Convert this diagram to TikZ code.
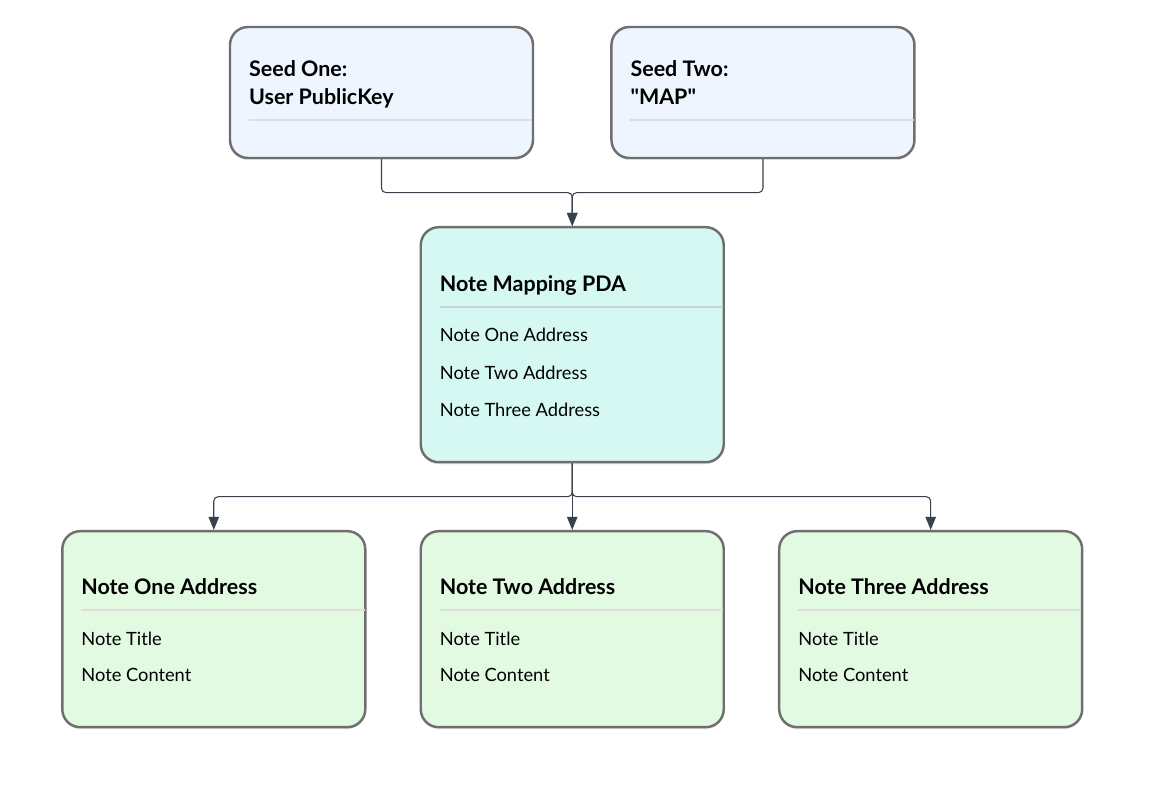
\documentclass[tikz,border=0pt]{standalone}
\usepackage{fontspec}
\setmainfont{Lato}[Ligatures=TeXOff]
\usetikzlibrary{arrows.meta,positioning,calc,shadows}
\definecolor{seedfill}{HTML}{EEF5FF}
\definecolor{pdafill}{HTML}{D5F8F2}
\definecolor{notefill}{HTML}{E2F9E2}
\definecolor{boxline}{HTML}{6F6F6F}
\definecolor{sepline}{HTML}{DEDEDE}
\definecolor{pdasep}{HTML}{C8D3DA}
\definecolor{linkcol}{HTML}{3A414C}

\begin{document}
\begin{tikzpicture}[
    box/.style={draw=boxline, line width=1.4pt, rounded corners=0.36cm, minimum width=6.06cm,
      drop shadow={shadow xshift=0pt, shadow yshift=-1.2pt, opacity=0.18}},
    seedbox/.style={box, fill=seedfill, minimum height=2.62cm},
    pdabox/.style={box, fill=pdafill, minimum height=4.7cm},
    notebox/.style={box, fill=notefill, minimum height=3.92cm},
    head/.style={anchor=base west, inner sep=0pt, font=\bfseries\fontsize{12.2}{14}\selectfont},
    item/.style={anchor=base west, inner sep=0pt, font=\fontsize{10.4}{13}\selectfont},
    sep/.style={draw=sepline, line width=1.2pt},
    link/.style={draw=linkcol, line width=0.6pt, rounded corners=2.5pt, -{Triangle[length=7.5pt,width=6pt]}}
  ]
    \useasboundingbox (0,0) rectangle (23.16,-16.2);

    % seeds
    \node [seedbox] (seedone) at (7.63,-1.85) {};
    \node [seedbox, right=1.52cm of seedone] (seedtwo) {};
    \node [head] (seedonea) at ($(seedone.north west)+(0.4,-1.02)$) {Seed One:};
    \node [head] (seedoneb) at ($(seedone.north west)+(0.4,-1.58)$) {User PublicKey};
    \node [head] (seedtwoa) at ($(seedtwo.north west)+(0.4,-1.02)$) {Seed Two:};
    \node [head] (seedtwob) at ($(seedtwo.north west)+(0.4,-1.58)$) {"MAP"};
    \draw [sep] ($(seedone.north west)+(0.4,-1.88)$) -- ($(seedone.north east)+(-0.04,-1.88)$);
    \draw [sep] ($(seedtwo.north west)+(0.4,-1.88)$) -- ($(seedtwo.north east)+(-0.04,-1.88)$);

    % mapping pda
    \coordinate (seedmid) at ($(seedone.south)!0.5!(seedtwo.south)$);
    \node [pdabox, below=1.335cm of seedmid] (pda) {};
    \node [head] (pdahead) at ($(pda.north west)+(0.4,-1.32)$) {Note Mapping PDA};
    \draw [sep, draw=pdasep] ($(pda.north west)+(0.4,-1.62)$) -- ($(pda.north east)+(-0.04,-1.62)$);
    \node [item] (pdaone) at ($(pda.north west)+(0.4,-2.32)$) {Note One Address};
    \node [item] (pdatwo) at ($(pda.north west)+(0.4,-3.08)$) {Note Two Address};
    \node [item] (pdathree) at ($(pda.north west)+(0.4,-3.82)$) {Note Three Address};

    % notes
    \node [notebox, below=1.33cm of pda] (notetwo) {};
    \node [notebox, left=1.06cm of notetwo] (noteone) {};
    \node [notebox, right=1.06cm of notetwo] (notethree) {};

    \node [head] (onehead) at ($(noteone.north west)+(0.4,-1.3)$) {Note One Address};
    \draw [sep] ($(noteone.north west)+(0.4,-1.6)$) -- ($(noteone.north east)+(-0.04,-1.6)$);
    \node [item] (onetitle) at ($(noteone.north west)+(0.4,-2.32)$) {Note Title};
    \node [item] (onecontent) at ($(noteone.north west)+(0.4,-3.04)$) {Note Content};

    \node [head] (twohead) at ($(notetwo.north west)+(0.4,-1.3)$) {Note Two Address};
    \draw [sep] ($(notetwo.north west)+(0.4,-1.6)$) -- ($(notetwo.north east)+(-0.04,-1.6)$);
    \node [item] (twotitle) at ($(notetwo.north west)+(0.4,-2.32)$) {Note Title};
    \node [item] (twocontent) at ($(notetwo.north west)+(0.4,-3.04)$) {Note Content};

    \node [head] (threehead) at ($(notethree.north west)+(0.4,-1.3)$) {Note Three Address};
    \draw [sep] ($(notethree.north west)+(0.4,-1.6)$) -- ($(notethree.north east)+(-0.04,-1.6)$);
    \node [item] (threetitle) at ($(notethree.north west)+(0.4,-2.32)$) {Note Title};
    \node [item] (threecontent) at ($(notethree.north west)+(0.4,-3.04)$) {Note Content};

    % links
    \coordinate (topbus) at ($(seedmid)!0.5!(pda.north)$);
    \coordinate (lowbus) at ($(pda.south)!0.5!(notetwo.north)$);
    \draw [link] (seedone.south) |- (topbus) -- (pda.north);
    \draw [link] (seedtwo.south) |- (topbus) -- (pda.north);
    \draw [link] (pda.south) -- (lowbus) -| (noteone.north);
    \draw [link] (pda.south) -- (notetwo.north);
    \draw [link] (pda.south) -- (lowbus) -| (notethree.north);
  \end{tikzpicture}
\end{document}
